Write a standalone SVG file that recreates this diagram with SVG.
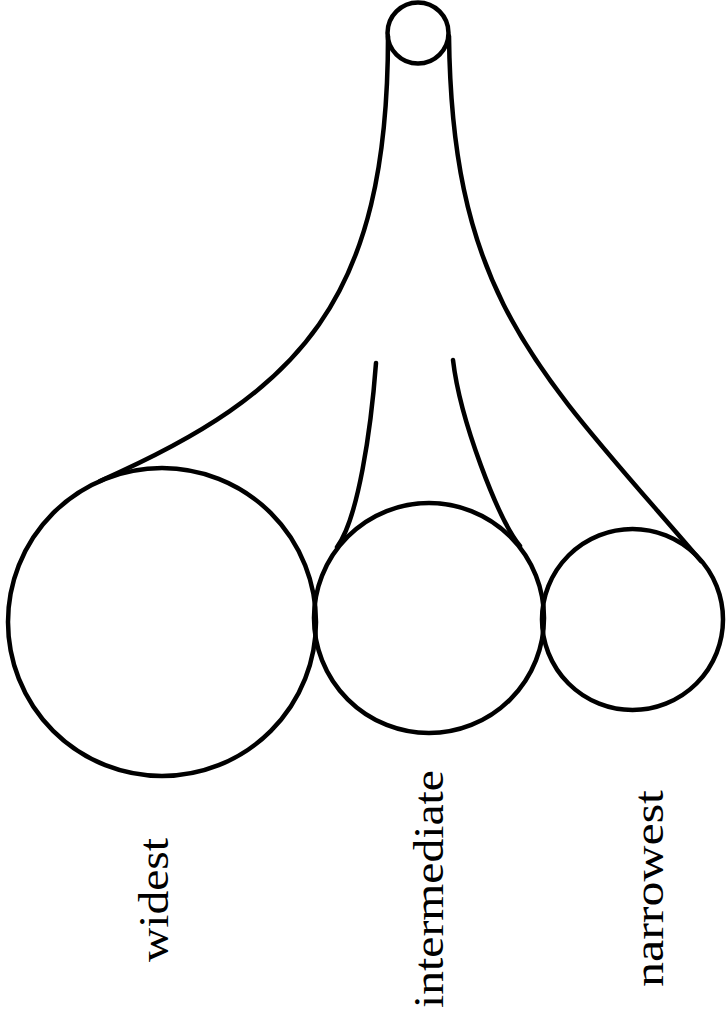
<svg xmlns="http://www.w3.org/2000/svg" width="726" height="1019" viewBox="0 0 726 1019">
<style>
.ln{fill:none;stroke:#000;stroke-width:4.5;stroke-linecap:round}
.lbl{font-family:"Liberation Serif","Times New Roman",serif;font-size:42px;fill:#000}
</style>
<rect width="726" height="1019" fill="#fff"/>
<g id="connectors">
<path class="ln" d="M388,36 C388,300 300,393 100,481"/>
<path class="ln" d="M449,36 C452,300 539,372 701,561"/>
<path class="ln" d="M376,363 C371,430 358,519 337,547"/>
<path class="ln" d="M453,360 C460,420 498,519 520,546"/>
</g>
<g id="top">
<circle class="ln" cx="418" cy="33" r="30.5"/>
</g>
<g id="widest">
<circle class="ln" cx="162" cy="622" r="154"/>
<text class="lbl" transform="translate(168,962) rotate(-90)" textLength="124" lengthAdjust="spacingAndGlyphs">widest</text>
</g>
<g id="intermediate">
<circle class="ln" cx="429" cy="618" r="115"/>
<text class="lbl" transform="translate(443,1008) rotate(-90)" textLength="238" lengthAdjust="spacingAndGlyphs">intermediate</text>
</g>
<g id="narrowest">
<circle class="ln" cx="632.5" cy="619.5" r="90.5"/>
<text class="lbl" transform="translate(663,987) rotate(-90)" textLength="197" lengthAdjust="spacingAndGlyphs">narrowest</text>
</g>
</svg>
